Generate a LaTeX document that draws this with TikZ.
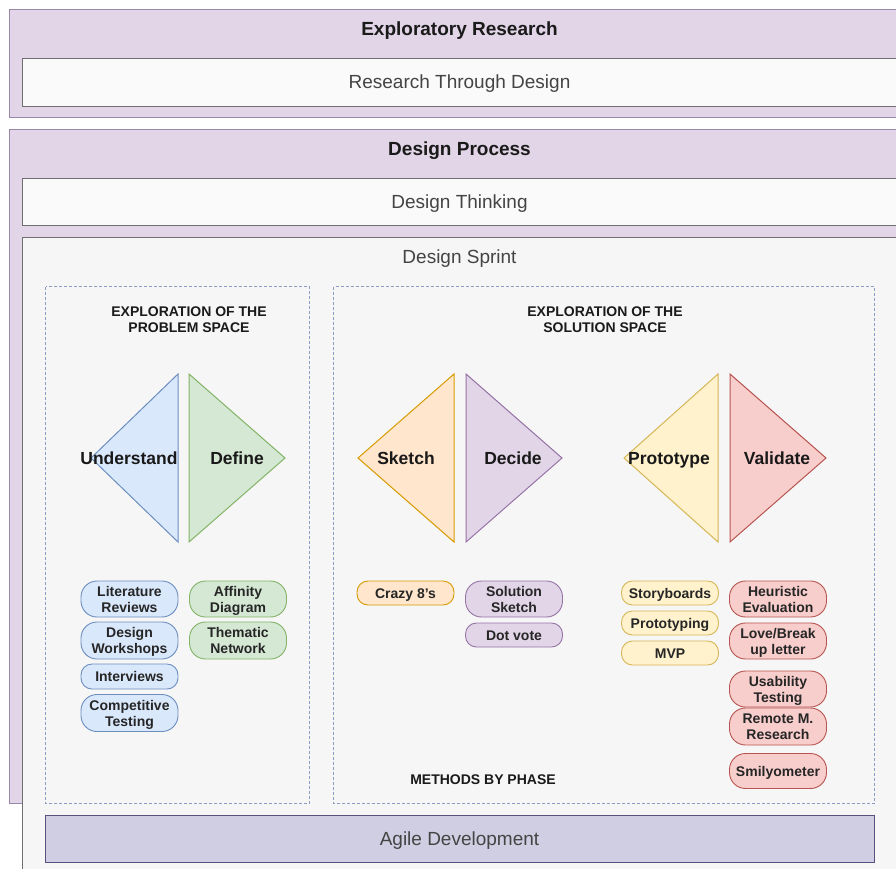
\documentclass[tikz,border=0pt]{standalone}
\usepackage{fontspec}
\setmainfont{Liberation Sans}
\definecolor{layerfill}{HTML}{E1D5E7}
\definecolor{layerdraw}{HTML}{9A88A8}
\definecolor{boxfill}{HTML}{FAFAFA}
\definecolor{boxdraw}{HTML}{6F6F6F}
\definecolor{sprintfill}{HTML}{F6F6F6}
\definecolor{spacedraw}{HTML}{8C9CC4}
\definecolor{agilefill}{HTML}{D0CEE2}
\definecolor{agiledraw}{HTML}{56517E}
\definecolor{bluefill}{HTML}{DAE8FC}
\definecolor{bluedraw}{HTML}{6C8EBF}
\definecolor{greenfill}{HTML}{D5E8D4}
\definecolor{greendraw}{HTML}{82B366}
\definecolor{orangefill}{HTML}{FFE6CC}
\definecolor{orangedraw}{HTML}{D79B00}
\definecolor{purplefill}{HTML}{E1D5E7}
\definecolor{purpledraw}{HTML}{9673A6}
\definecolor{yellowfill}{HTML}{FFF2CC}
\definecolor{yellowdraw}{HTML}{D6B656}
\definecolor{redfill}{HTML}{F8CECC}
\definecolor{reddraw}{HTML}{B85450}
\definecolor{subtext}{HTML}{444444}
\definecolor{maintext}{HTML}{1A1A1A}
% line struts with Arial-like ascent/descent; the first-line strut is taller
% so that the text block sits slightly low inside its pill
\newcommand\lstr{\rule[-0.212em]{0pt}{0.905em}}
\newcommand\lstrtop{\rule[-0.212em]{0pt}{\dimexpr0.905em+4pt\relax}}
\newcommand\twol[2]{\lstrtop #1\\\lstr #2}
\newcommand\onel[1]{\lstrtop #1}
\begin{document}
\begin{tikzpicture}[x=1pt,y=-1pt,
  layer/.style={fill=layerfill,draw=layerdraw,line width=1pt},
  plainbox/.style={fill=boxfill,draw=boxdraw,line width=0.9pt},
  sprintbox/.style={fill=sprintfill,draw=boxdraw,line width=0.9pt},
  spacebox/.style={draw=spacedraw,line width=0.7pt,dash pattern=on 3pt off 2pt},
  agilebox/.style={fill=agilefill,draw=agiledraw,line width=1pt},
  bigtitle/.style={font=\bfseries\fontsize{19}{22}\selectfont,text=maintext,inner sep=0pt,text height=0.905em,text depth=0.212em,yshift=-3.5pt},
  subtitle/.style={font=\fontsize{19}{22}\selectfont,text=subtext,inner sep=0pt,text height=0.905em,text depth=0.212em,yshift=-3.5pt},
  spacehead/.style={font=\bfseries\fontsize{14}{16}\selectfont,text=maintext,align=center,inner sep=0pt,yshift=-2.5pt},
  phase/.style={font=\bfseries\fontsize{17.5}{20}\selectfont,text=black!90,inner sep=0pt,text height=0.905em,text depth=0.212em,yshift=-3pt},
  tri/.style={line width=1pt,line join=miter},
  pill/.style={font=\bfseries\fontsize{14}{16}\selectfont,text=black!85,align=center,inner sep=0pt,minimum width=97pt,line width=0.9pt},
  pilltwo/.style={pill,minimum height=36pt,rounded corners=16pt},
  pillone/.style={pill,minimum height=24pt,rounded corners=11pt},
  bluepill/.style={fill=bluefill,draw=bluedraw},
  greenpill/.style={fill=greenfill,draw=greendraw},
  orangepill/.style={fill=orangefill,draw=orangedraw},
  purplepill/.style={fill=purplefill,draw=purpledraw},
  yellowpill/.style={fill=yellowfill,draw=yellowdraw},
  redpill/.style={fill=redfill,draw=reddraw},
]
\useasboundingbox (0,0) rectangle (896,868);
\fill[white] (0,0) rectangle (896,868);
\begin{scope}
\clip (0,0) rectangle (896,868);

% research layer
\draw[layer] (9,9) rectangle (910,117);
\node[bigtitle] (explo) at (459.5,29) {Exploratory Research};
\draw[plainbox] (22,58) rectangle (897,106);
\node[subtitle] (rtd) at (459.5,82) {Research Through Design};

% design process layer
\draw[layer] (9,129) rectangle (910,803);
\node[bigtitle] (dproc) at (459.5,149) {Design Process};
\draw[plainbox] (22,178) rectangle (897,225);
\node[subtitle] (dthink) at (459.5,202) {Design Thinking};
\draw[sprintbox] (22,237) rectangle (897,890);
\node[subtitle] (dsprint) at (459.5,257) {Design Sprint};

% problem and solution spaces
\draw[spacebox] (45.5,286.5) rectangle (309.5,803);
\draw[spacebox] (333.5,286.5) rectangle (874.5,803);
\node[spacehead] (probhead) at (189,319) {\lstr EXPLORATION OF THE\\\lstr PROBLEM SPACE};
\node[spacehead] (solhead) at (605,319) {\lstr EXPLORATION OF THE\\\lstr SOLUTION SPACE};

% phase triangles
\filldraw[tri,fill=bluefill,draw=bluedraw] (178,374) -- (178,542) -- (91,458) -- cycle;
\filldraw[tri,fill=greenfill,draw=greendraw] (189,374) -- (189,542) -- (285,458) -- cycle;
\filldraw[tri,fill=orangefill,draw=orangedraw] (454,374) -- (454,542) -- (358,458) -- cycle;
\filldraw[tri,fill=purplefill,draw=purpledraw] (466,374) -- (466,542) -- (562,458) -- cycle;
\filldraw[tri,fill=yellowfill,draw=yellowdraw] (718,374) -- (718,542) -- (624,458) -- cycle;
\filldraw[tri,fill=redfill,draw=reddraw] (730,374) -- (730,542) -- (826,458) -- cycle;

\node[phase] (understand) at (129,458) {Understand};
\node[phase] (define) at (237,458) {Define};
\node[phase] (sketch) at (406,458) {Sketch};
\node[phase] (decide) at (513,458) {Decide};
\node[phase] (prototype) at (669,458) {Prototype};
\node[phase] (validate) at (777,458) {Validate};

% methods: understand
\node[pilltwo,bluepill] (litrev) at (129.5,599) {\twol{Literature}{Reviews}};
\node[pilltwo,bluepill,minimum height=37pt] (workshops) at (129.5,640.5) {\twol{Design}{Workshops}};
\node[pillone,bluepill,minimum height=25pt] (interviews) at (129.5,676.5) {\onel{Interviews}};
\node[pilltwo,bluepill,minimum height=37pt] (comptest) at (129.5,713) {\twol{Competitive}{Testing}};
% methods: define
\node[pilltwo,greenpill] (affinity) at (238,599) {\twol{Affinity}{Diagram}};
\node[pilltwo,greenpill,minimum height=37pt] (thematic) at (238,640.5) {\twol{Thematic}{Network}};
% methods: sketch
\node[pillone,orangepill] (crazy) at (405.5,593) {\onel{Crazy 8’s}};
% methods: decide
\node[pilltwo,purplepill] (solsketch) at (514,599) {\twol{Solution}{Sketch}};
\node[pillone,purplepill] (dotvote) at (514,635) {\onel{Dot vote}};
% methods: prototype
\node[pillone,yellowpill] (storyb) at (670,593) {\onel{Storyboards}};
\node[pillone,yellowpill] (prototyping) at (670,623) {\onel{Prototyping}};
\node[pillone,yellowpill] (mvp) at (670,653) {\onel{MVP}};
% methods: validate
\node[pilltwo,redpill] (heuristic) at (778,599) {\twol{Heuristic}{Evaluation}};
\node[pilltwo,redpill] (lovebreak) at (778,641) {\twol{Love/Break}{up letter}};
\node[pilltwo,redpill] (usability) at (778,689) {\twol{Usability}{Testing}};
\node[pilltwo,redpill,minimum height=37pt] (remote) at (778,726.5) {\twol{Remote M.}{Research}};
\node[pilltwo,redpill,minimum height=35pt] (smily) at (778,771) {\onel{Smilyometer}};

\node[spacehead] (methods) at (483,779) {\lstr METHODS BY PHASE};

% agile layer
\draw[agilebox] (45,815) rectangle (874,862);
\node[subtitle] (agile) at (459.5,839) {Agile Development};
\end{scope}
\end{tikzpicture}
\end{document}
